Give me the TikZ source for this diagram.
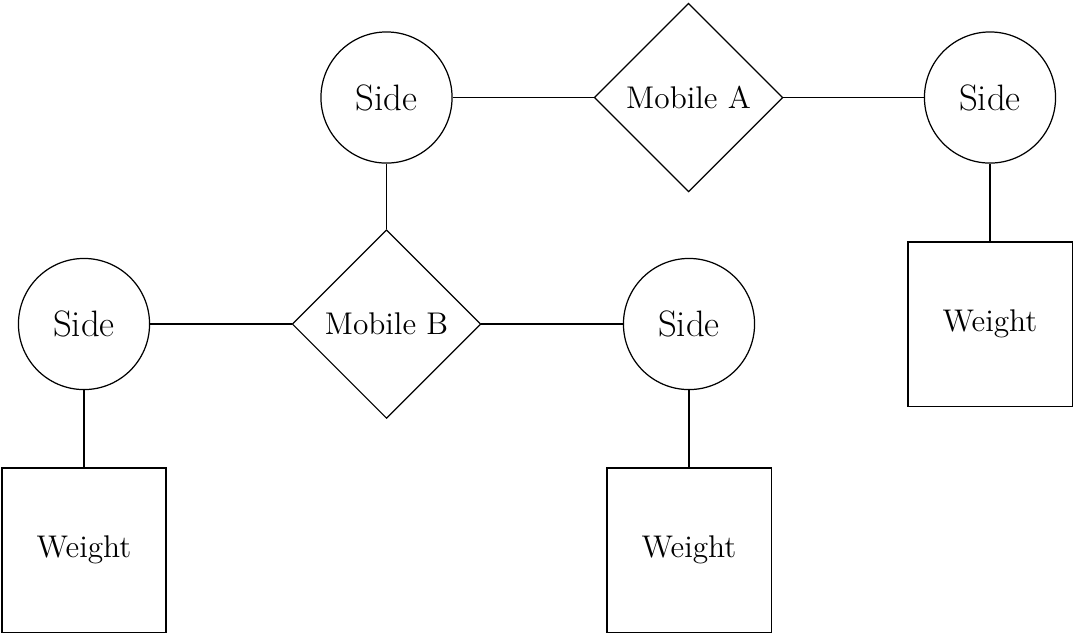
\documentclass[tikz,border=0pt]{standalone}
\usetikzlibrary{shapes.geometric}
\begin{document}
\begin{tikzpicture}[x=0.408pt,y=-0.408pt,
  side/.style={circle,draw,line width=0.5pt,minimum size=53.5pt,inner sep=0pt,font=\fontsize{15}{18}\selectfont},
  mobile/.style={diamond,draw,line width=0.5pt,minimum width=77pt,minimum height=77pt,inner sep=0pt,font=\fontsize{12.8}{15}\selectfont},
  weight/.style={rectangle,draw,line width=0.5pt,minimum size=67pt,inner sep=0pt,font=\fontsize{12.8}{15}\selectfont},
  link/.style={line width=0.5pt}]
\useasboundingbox (0,0) rectangle (1076,635);
% top level mobile
\node[side] (sA1) at (386.5,97.5) {Side};
\node[mobile] (mA) at (688.5,97.5) {Mobile A};
\node[side] (sA2) at (990,97.5) {Side};
\node[weight] (wA) at (990,324) {Weight};
% lower mobile hanging from the left side
\node[mobile] (mB) at (386.5,324) {Mobile B};
\node[side] (sB1) at (84,324) {Side};
\node[side] (sB2) at (689,324) {Side};
\node[weight] (wB1) at (84,550) {Weight};
\node[weight] (wB2) at (689,550) {Weight};
% connectors
\draw[link] (sA1) -- (mA);
\draw[link] (mA) -- (sA2);
\draw[link] (sA2) -- (wA);
\draw[link] (sA1) -- (mB);
\draw[link] (sB1) -- (mB);
\draw[link] (mB) -- (sB2);
\draw[link] (sB1) -- (wB1);
\draw[link] (sB2) -- (wB2);
\end{tikzpicture}
\end{document}
